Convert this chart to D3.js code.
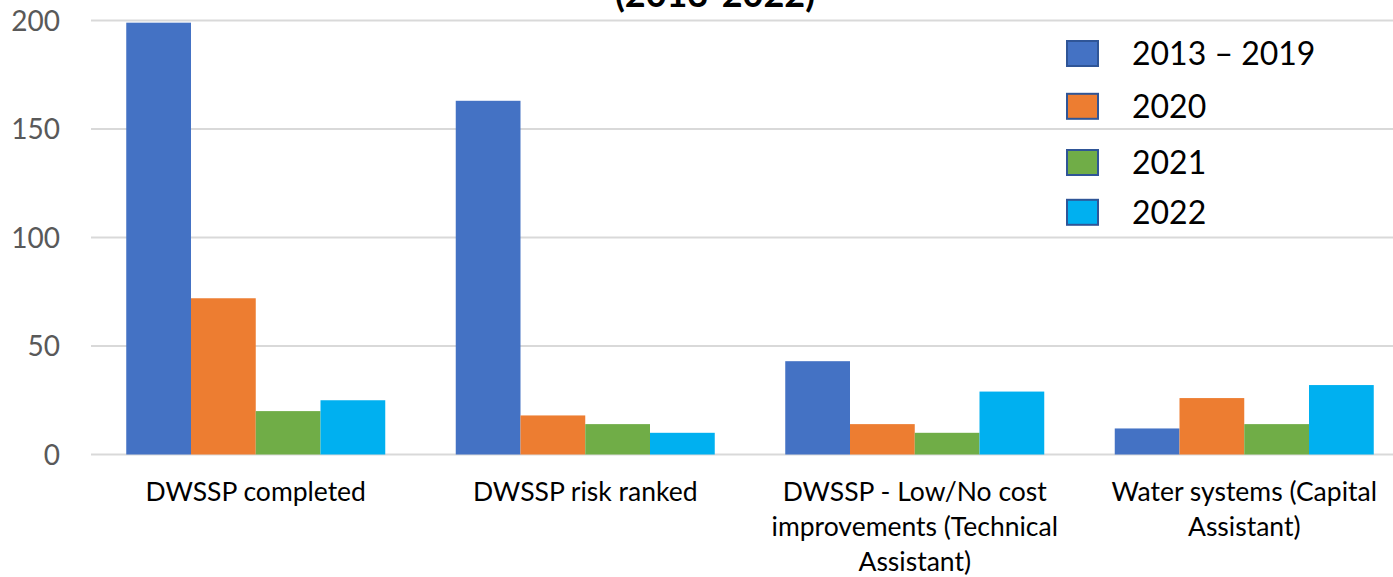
<!DOCTYPE html>
<html><head><meta charset="utf-8">
<script src="https://cdn.jsdelivr.net/npm/d3@7"></script>
<style>html,body{margin:0;padding:0;background:#fff;overflow:hidden}</style>
</head><body>
<svg id="c" width="1393" height="577"></svg>
<script>
const categories = ["DWSSP completed","DWSSP risk ranked","DWSSP - Low/No cost improvements (Technical Assistant)","Water systems (Capital Assistant)"];
const categoryLines = [["DWSSP completed"],["DWSSP risk ranked"],["DWSSP - Low/No cost","improvements (Technical","Assistant)"],["Water systems (Capital","Assistant)"]];
const seriesNames = ["2013 \u2013 2019","2020","2021","2022"];
const s2013_2019 = [199,163,43,12];
const s2020 = [72,18,14,26];
const s2021 = [20,14,10,14];
const s2022 = [25,10,29,32];
const yTicks = [0,50,100,150,200];
const colors = ["#4472C4","#ED7D31","#70AD47","#00B0F0"];
const titleText = "(2013-2022)";

const values = [s2013_2019,s2020,s2021,s2022];
const svg = d3.select("#c");
const font = "Lato, 'Open Sans', sans-serif";

const y = d3.scaleLinear().domain([0,200]).range([454.5,20.5]);
const x0 = d3.scaleBand().domain(categories).range([91,1409]).padding(0);
const x1 = d3.scaleBand().domain(seriesNames).range([35.25, x0.bandwidth()-35.25]).padding(0);

// gridlines
svg.append("g").selectAll("line").data(yTicks).join("line")
  .attr("x1",91).attr("x2",1393)
  .attr("y1",d=>y(d)).attr("y2",d=>y(d))
  .attr("stroke","#D9D9D9").attr("stroke-width",2);

// y axis labels
const yAxis = d3.axisLeft(y).tickValues(yTicks).tickSize(0).tickPadding(0);
const ga = svg.append("g").attr("transform","translate(60,0)").call(yAxis);
ga.select(".domain").remove();
ga.selectAll("text").attr("font-family",font).attr("font-size",28).attr("fill","#595959").attr("dy","0.35em");

// bars
const groups = svg.append("g").selectAll("g").data(categories).join("g")
  .attr("transform",d=>`translate(${x0(d)},0)`);
groups.selectAll("rect").data((c,ci)=>seriesNames.map((s,si)=>({s,si,v:values[si][ci]}))).join("rect")
  .attr("x",d=>x1(d.s)).attr("width",x1.bandwidth())
  .attr("y",d=>y(d.v)).attr("height",d=>y(0)-y(d.v))
  .attr("fill",d=>colors[d.si]);

// category labels
const cl = svg.append("g").selectAll("text").data(categories).join("text")
  .attr("x",d=>x0(d)+x0.bandwidth()/2).attr("y",501)
  .attr("text-anchor","middle").attr("font-family",font).attr("font-size",26.5).attr("fill","#000");
cl.each(function(d,i){
  d3.select(this).selectAll("tspan").data(categoryLines[i]).join("tspan")
    .attr("x",x0(d)+x0.bandwidth()/2).attr("dy",(t,j)=>j===0?0:35).text(t=>t);
});

// legend
const lg = svg.append("g").selectAll("g").data(seriesNames).join("g")
  .attr("transform",(d,i)=>`translate(1066,${[53.5,106.3,162.5,212.3][i]})`);
lg.append("rect").attr("x",1).attr("y",-12.5).attr("width",31).attr("height",25)
  .attr("fill",(d,i)=>colors[i]).attr("stroke","#2F5597").attr("stroke-width",2);
lg.append("text").attr("x",66).attr("dy","0.35em").attr("font-family",font).attr("font-size",32).attr("fill","#000").text(d=>d);

// title (partially visible, as in the reference)
svg.append("text").attr("x",715).attr("y",7).attr("text-anchor","middle")
  .attr("font-family",font).attr("font-weight","bold").attr("font-size",36).attr("fill","#000").text(titleText);
</script>
</body></html>
